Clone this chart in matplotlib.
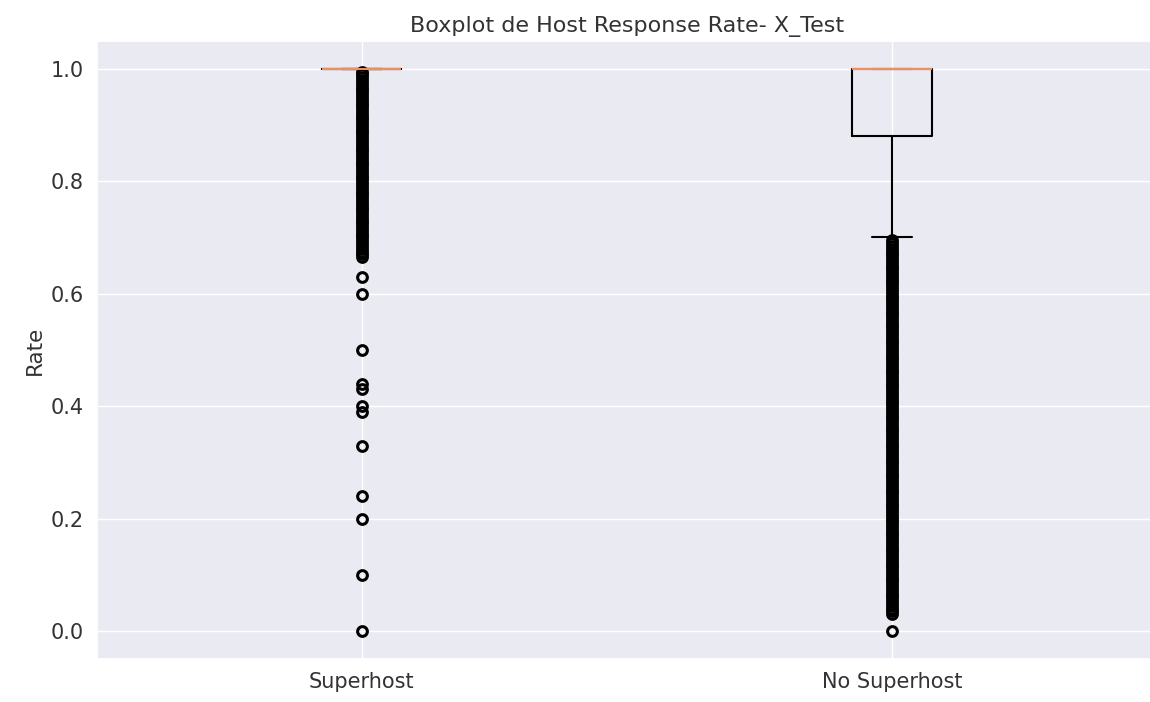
import matplotlib
matplotlib.use("Agg")
import matplotlib.pyplot as plt
import seaborn as sns

sns.set_theme(style="darkgrid")

labels = ["Superhost", "No Superhost"]

# box statistics per group
medians = [1.0, 1.0]
q1s = [1.0, 0.88]
q3s = [1.0, 1.0]
whisker_lo = [1.0, 0.70]
whisker_hi = [1.0, 1.0]

# outliers
fliers_superhost = [0.995, 0.99, 0.985, 0.98, 0.975, 0.97, 0.965, 0.96, 0.955, 0.95,
                    0.945, 0.94, 0.935, 0.93, 0.925, 0.92, 0.915, 0.91, 0.905, 0.90,
                    0.895, 0.89, 0.885, 0.88, 0.875, 0.87, 0.865, 0.86, 0.855, 0.85,
                    0.845, 0.84, 0.835, 0.83, 0.825, 0.82, 0.815, 0.81, 0.805, 0.80,
                    0.795, 0.79, 0.785, 0.78, 0.775, 0.77, 0.765, 0.76, 0.755, 0.75,
                    0.745, 0.74, 0.735, 0.73, 0.725, 0.72, 0.715, 0.71, 0.705, 0.70,
                    0.695, 0.69, 0.685, 0.68, 0.675, 0.67, 0.665,
                    0.63, 0.60, 0.50, 0.44, 0.43, 0.40, 0.39, 0.33, 0.24, 0.20,
                    0.10, 0.0]
fliers_no_superhost = [0.695, 0.69, 0.685, 0.68, 0.675, 0.67, 0.665, 0.66, 0.655, 0.65,
                       0.645, 0.64, 0.635, 0.63, 0.625, 0.62, 0.615, 0.61, 0.605, 0.60,
                       0.595, 0.59, 0.585, 0.58, 0.575, 0.57, 0.565, 0.56, 0.555, 0.55,
                       0.545, 0.54, 0.535, 0.53, 0.525, 0.52, 0.515, 0.51, 0.505, 0.50,
                       0.495, 0.49, 0.485, 0.48, 0.475, 0.47, 0.465, 0.46, 0.455, 0.45,
                       0.445, 0.44, 0.435, 0.43, 0.425, 0.42, 0.415, 0.41, 0.405, 0.40,
                       0.395, 0.39, 0.385, 0.38, 0.375, 0.37, 0.365, 0.36, 0.355, 0.35,
                       0.345, 0.34, 0.335, 0.33, 0.325, 0.32, 0.315, 0.31, 0.305, 0.30,
                       0.295, 0.29, 0.285, 0.28, 0.275, 0.27, 0.265, 0.26, 0.255, 0.25,
                       0.245, 0.24, 0.235, 0.23, 0.225, 0.22, 0.215, 0.21, 0.205, 0.20,
                       0.195, 0.19, 0.185, 0.18, 0.175, 0.17, 0.165, 0.16, 0.155, 0.15,
                       0.145, 0.14, 0.135, 0.13, 0.125, 0.12, 0.115, 0.11, 0.105, 0.10,
                       0.095, 0.09, 0.085, 0.08, 0.075, 0.07, 0.065, 0.06, 0.055, 0.05,
                       0.045, 0.04, 0.035, 0.03, 0.0]
fliers = [fliers_superhost, fliers_no_superhost]

stats = []
for i in range(len(labels)):
    stats.append({"label": labels[i], "med": medians[i], "q1": q1s[i], "q3": q3s[i],
                  "whislo": whisker_lo[i], "whishi": whisker_hi[i], "fliers": fliers[i]})

fig, ax = plt.subplots(figsize=(11.5, 7.02), dpi=100)
ax.bxp(stats,
       boxprops=dict(color="black", linewidth=1.5),
       whiskerprops=dict(color="black", linewidth=1.5),
       capprops=dict(color="black", linewidth=1.5),
       medianprops=dict(color="#f28e5c", linewidth=1.5),
       flierprops=dict(marker="o", markerfacecolor="none", markeredgecolor="black",
                       markersize=7, markeredgewidth=2.2))

ax.set_title("Boxplot de Host Response Rate- X_Test", fontsize=16, color="#333333")
ax.set_ylabel("Rate", fontsize=15.5, color="#333333")
ax.tick_params(axis="both", labelsize=15, labelcolor="#333333")
ax.set_yticks([0.0, 0.2, 0.4, 0.6, 0.8, 1.0])

fig.subplots_adjust(left=0.084, right=1.006, bottom=0.061, top=0.942)
fig.savefig("out.png")
